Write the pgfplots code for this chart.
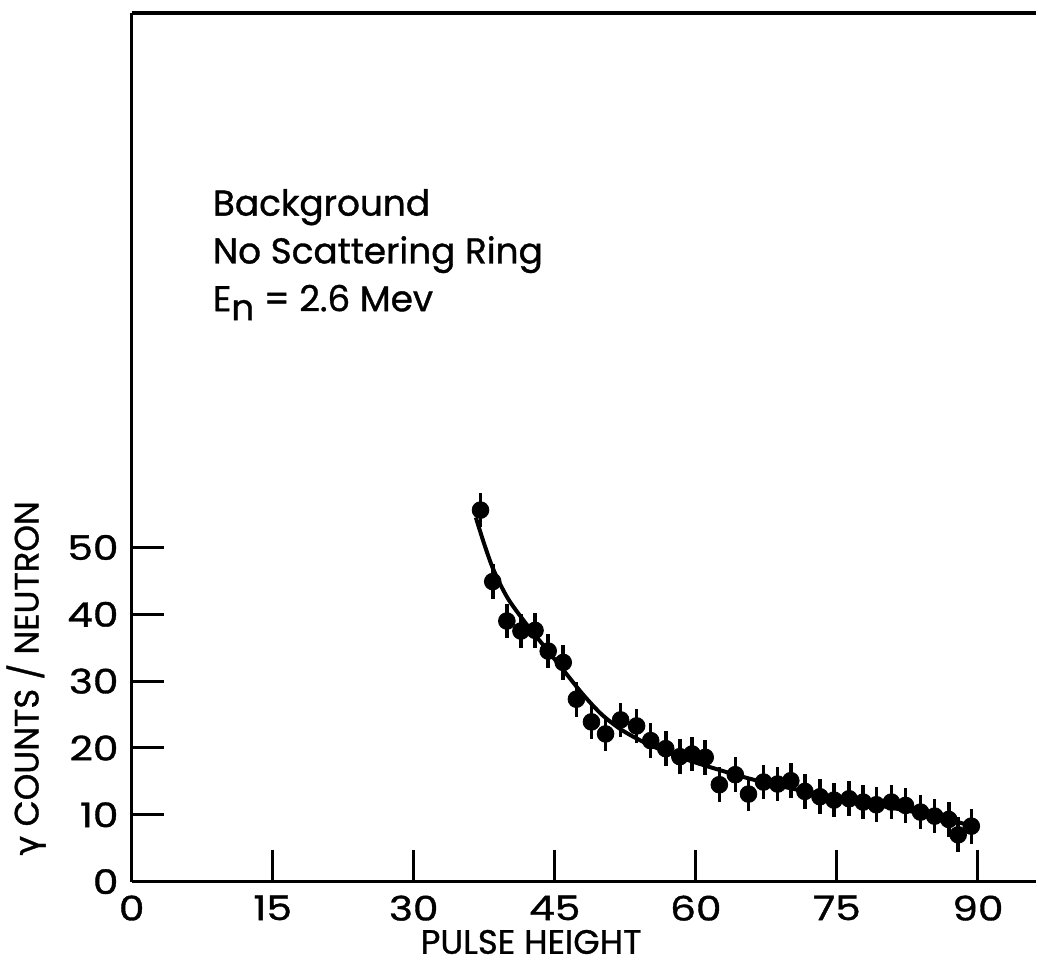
\documentclass[border=0pt]{standalone}
\usepackage{fontspec}
\setmainfont{Poppins}[FakeBold=1]
\newfontfamily\gfont{DejaVu Sans}[FakeBold=1]
\usepackage{pgfplots}
\pgfplotsset{compat=1.18}
\usepackage{pgfplotstable}
\pgfplotstableread{
x y e
37.1 55.6 2.6
38.4 44.9 2.6
39.9 39.0 2.6
41.4 37.5 2.6
42.9 37.6 2.6
44.3 34.5 2.6
45.9 32.8 2.6
47.3 27.3 2.6
48.9 23.9 2.6
50.4 22.1 2.6
52.0 24.2 2.6
53.7 23.3 2.6
55.2 21.1 2.6
56.8 19.9 2.6
58.3 18.7 2.6
59.6 19.1 2.6
61.0 18.6 2.6
62.5 14.5 2.6
64.2 16.0 2.6
65.6 13.1 2.6
67.2 14.9 2.6
68.7 14.6 2.6
70.1 15.1 2.6
71.6 13.5 2.6
73.2 12.7 2.6
74.7 12.2 2.6
76.3 12.4 2.6
77.8 11.9 2.6
79.2 11.5 2.6
80.8 11.9 2.6
82.3 11.4 2.6
83.9 10.4 2.6
85.4 9.8 2.6
86.9 9.3 2.6
87.9 7.0 2.6
89.3 8.3 2.6
}\datatable
\pgfplotstableread{
x y
36.6 54.5
37.5 50.5
38.5 46.6
40 42.4
42 38.5
44 35.0
46 31.5
48 28.0
50 25.0
52 22.8
54 21.2
56 19.9
58 18.8
60 17.8
63 16.5
66 15.3
69 14.3
72 13.4
75 12.6
78 11.8
81 11.0
84 10.2
87 9.2
89.5 8.3
}\fittable
\begin{document}
\begin{tikzpicture}
\begin{axis}[
  scale only axis,
  width=454pt, height=436pt,
  xmin=0, xmax=96.2, ymin=0, ymax=130,
  axis x line*=bottom, axis y line*=left,
  axis line style={line width=1.8pt, -},
  xtick={0,15,30,45,60,75,90},
  ytick={0,10,20,30,40,50},
  tick align=inside,
  major tick length=16pt,
  every tick/.style={black, line width=1.5pt},
  /pgf/number format/assume math mode=true,
  tick label style={font=\fontsize{17}{20}\selectfont, xscale=1.2},
  xticklabel style={yshift=-3.5pt},
  yticklabel style={xshift=-2pt},
  xlabel={PULSE HEIGHT},
  ylabel={{\gfont γ} COUNTS / NEUTRON},
  label style={font=\fontsize{17}{20}\selectfont},
  xlabel style={at={(axis description cs:0.4416,-0.0695)}, anchor=center},
  ylabel style={at={(axis description cs:-0.1167,0.234)}, anchor=center},
  clip=false,
]
\addplot[black, line width=2pt, smooth] table[x=x, y=y] {\fittable};
\addplot[black, only marks, mark=*, mark size=4.2pt,
  error bars/.cd, y dir=both, y explicit, error mark=none,
  error bar style={line width=1.8pt, black}]
  table[x=x, y=y, y error=e] {\datatable};
\draw[line width=1.8pt] (rel axis cs:0,1) -- (rel axis cs:1,1);
\node[anchor=north west, inner sep=0pt, align=left,
  font=\fontsize{18}{24}\selectfont] at (axis cs:8.6,103.7)
  {Background\\No Scattering Ring\\E\raisebox{-0.45ex}{n} = 2.6 Mev};
\coordinate (ll) at (rel axis cs:0,0);
\coordinate (ur) at (rel axis cs:1,1);
\end{axis}
\path ([shift={(-65pt,-41.5pt)}]ll) rectangle ([shift={(0pt,6.5pt)}]ur);
\end{tikzpicture}
\end{document}
